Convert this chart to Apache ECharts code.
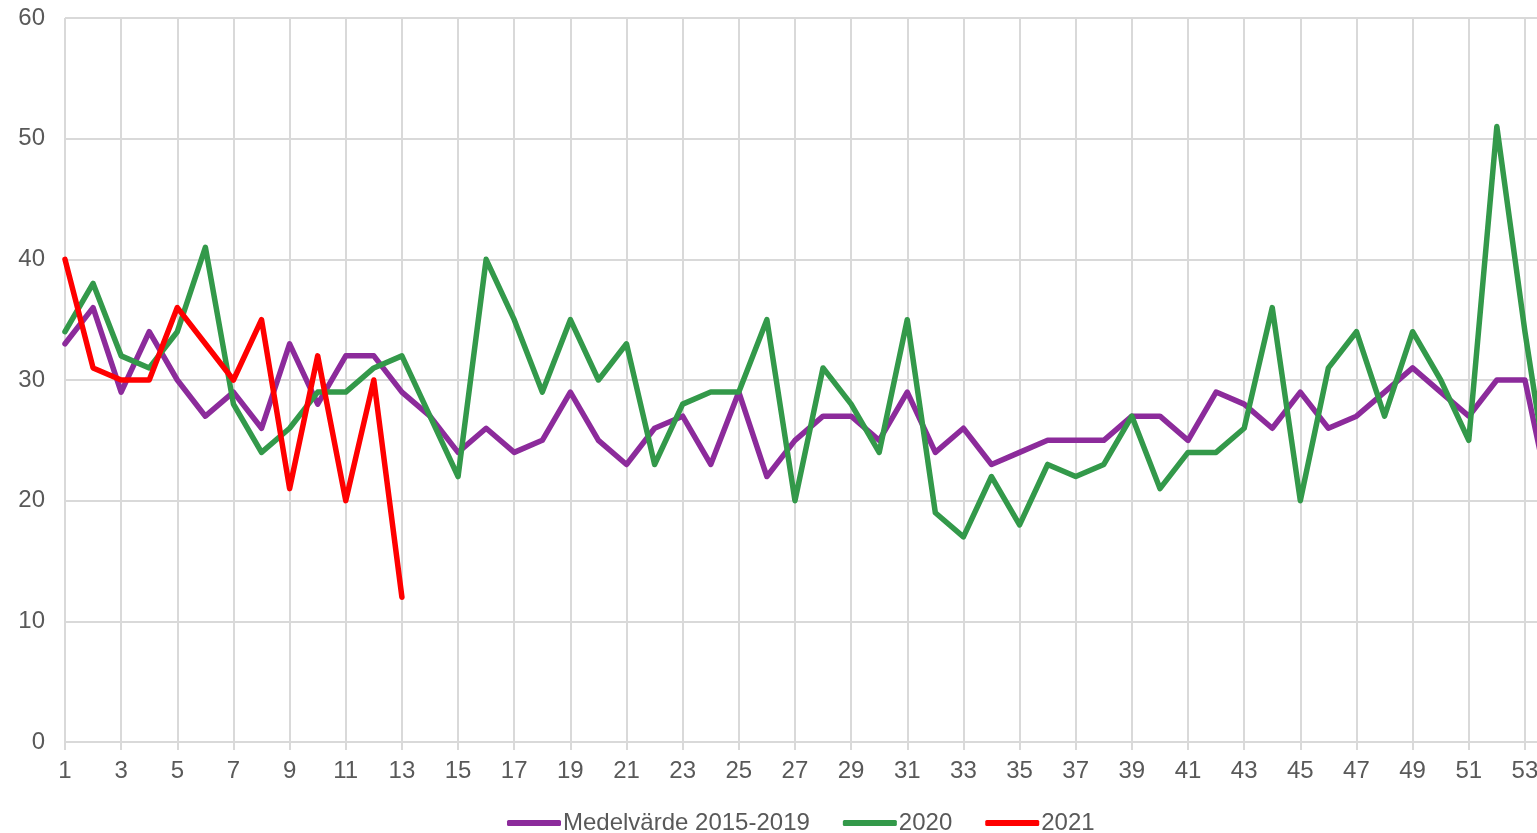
<!DOCTYPE html>
<html>
<head>
<meta charset="utf-8">
<script src="https://cdn.jsdelivr.net/npm/echarts@6/dist/echarts.min.js"></script>
<style>
html, body { margin: 0; padding: 0; background: #fff; overflow: hidden; }
/* ritytan är lite bredare än fönstret, vecka 54 hamnar utanför högra kanten */
#chart { width: 1553px; height: 833px; }
</style>
</head>
<body>
<div id="chart"></div>
<script>
// veckor 1-54 (den sista syns bara delvis i kanten)
const weeks = [];
for (let i = 1; i <= 54; i++) weeks.push(String(i));

const seriesNames = ['Medelvärde 2015-2019', '2020', '2021'];

const medel = [33, 36, 29, 34, 30, 27, 29, 26, 33, 28, 32, 32, 29, 27, 24, 26, 24, 25, 29, 25,
    23, 26, 27, 23, 29, 22, 25, 27, 27, 25, 29, 24, 26, 23, 24, 25, 25, 25, 27, 27,
    25, 29, 28, 26, 29, 26, 27, 29, 31, 29, 27, 30, 30, 19];

const y2020 = [34, 38, 32, 31, 34, 41, 28, 24, 26, 29, 29, 31, 32, 27, 22, 40, 35, 29, 35, 30,
    33, 23, 28, 29, 29, 35, 20, 31, 28, 24, 35, 19, 17, 22, 18, 23, 22, 23, 27, 21,
    24, 24, 26, 36, 20, 31, 34, 27, 34, 30, 25, 51, 34, 19];

const y2021 = [40, 31, 30, 30, 36, 33, 30, 35, 21, 32, 20, 30, 12];

const colors = ['#8c2b9b', '#33994a', '#ff0000'];
const textColor = '#595959';
const gridColor = '#d9d9d9';
const font = 'Liberation Sans, Arial, sans-serif';

const chart = echarts.init(document.getElementById('chart'));

function lineSeries(name, data, color) {
    return {
        name: name,
        type: 'line',
        data: data,
        symbol: 'none',
        showSymbol: false,
        animation: false,
        lineStyle: { color: color, width: 5.5, join: 'round', cap: 'round' },
        itemStyle: { color: color }
    };
}

chart.setOption({
    animation: false,
    textStyle: { fontFamily: font },
    grid: { left: 65, right: 0, top: 18, bottom: 91, containLabel: false },
    legend: {
        data: seriesNames,
        left: 502,
        top: 806,
        icon: 'roundRect',
        itemWidth: 54,
        itemHeight: 6,
        itemGap: 33,
        textStyle: { color: textColor, fontSize: 24, fontFamily: font, padding: [0, 0, 0, -3] }
    },
    xAxis: {
        type: 'category',
        data: weeks,
        boundaryGap: false,
        axisLine: { lineStyle: { color: gridColor, width: 2 } },
        axisTick: { show: true, interval: 1, length: 8, lineStyle: { color: gridColor, width: 2 } },
        axisLabel: { interval: 1, color: textColor, fontSize: 24, margin: 17, fontFamily: font },
        splitLine: { show: true, interval: 1, lineStyle: { color: gridColor, width: 2 } }
    },
    yAxis: {
        type: 'value',
        min: 0,
        max: 60,
        interval: 10,
        axisLine: { show: false },
        axisTick: { show: false },
        axisLabel: { color: textColor, fontSize: 24, margin: 20, fontFamily: font },
        splitLine: { lineStyle: { color: gridColor, width: 2 } }
    },
    series: [
        lineSeries(seriesNames[0], medel, colors[0]),
        lineSeries(seriesNames[1], y2020, colors[1]),
        lineSeries(seriesNames[2], y2021, colors[2])
    ]
});
</script>
</body>
</html>
